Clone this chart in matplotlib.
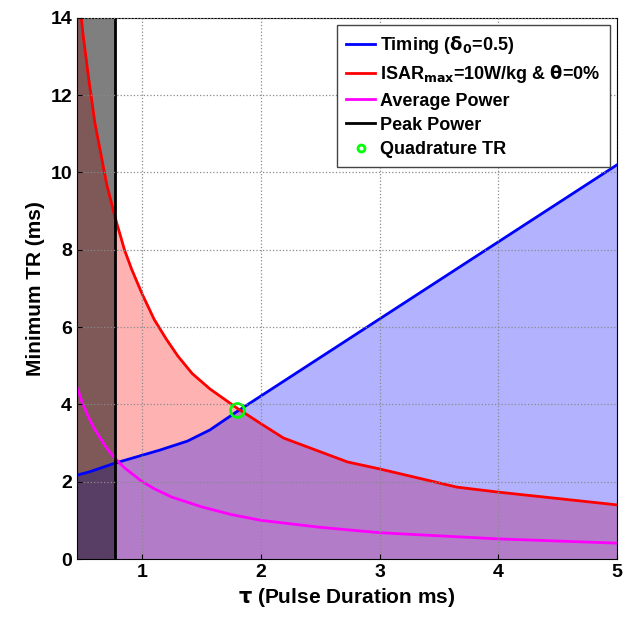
import matplotlib.pyplot as plt

plt.rcParams['font.family'] = ['Liberation Sans', 'DejaVu Sans']
plt.rcParams['font.weight'] = 'bold'
plt.rcParams['mathtext.default'] = 'bf'

# timing limit
tau_timing = [0.45, 0.55, 0.77, 1.15, 1.38, 1.57, 1.8, 5.0]
tr_timing = [2.17, 2.25, 2.48, 2.82, 3.05, 3.34, 3.82, 10.2]

# SAR limit
tau_sar = [0.45, 0.5, 0.55, 0.6, 0.65, 0.7, 0.77, 0.85, 0.91, 1.0, 1.1, 1.2,
           1.3, 1.42, 1.57, 1.8, 2.0, 2.19, 2.73, 3.0, 3.65, 4.0, 5.0]
tr_sar = [15.1, 13.6, 12.4, 11.3, 10.5, 9.7, 8.85, 8.0, 7.5, 6.85, 6.2, 5.7,
          5.25, 4.8, 4.4, 3.9, 3.5, 3.13, 2.51, 2.33, 1.86, 1.73, 1.40]

# average power limit
tau_avg = [0.45, 0.5, 0.55, 0.6, 0.7, 0.77, 0.85, 1.0, 1.1, 1.25, 1.5, 1.75,
           2.0, 2.5, 3.0, 3.5, 4.0, 5.0]
tr_avg = [4.44, 4.0, 3.65, 3.35, 2.87, 2.6, 2.36, 2.0, 1.82, 1.6, 1.35, 1.15,
          1.0, 0.82, 0.68, 0.6, 0.52, 0.41]

peak_tau = 0.77
quad_tau, quad_tr = 1.8, 3.85

fig = plt.figure(figsize=(6.31, 6.17), dpi=100)
ax = fig.add_axes([0.122, 0.094, 0.856, 0.877])

ax.fill_between(tau_sar, tr_sar, 0, color='red', alpha=0.3, lw=0)
ax.fill_between(tau_timing, tr_timing, 0, color='blue', alpha=0.3, lw=0)
ax.axvspan(0.45, peak_tau, color='black', alpha=0.5, lw=0)

ax.plot(tau_timing, tr_timing, color='blue', lw=2, label=r'Timing ($\delta_0$=0.5)')
ax.plot(tau_sar, tr_sar, color='red', lw=2, label=r'ISAR$_{max}$=10W/kg & $\theta$=0%')
ax.plot(tau_avg, tr_avg, color='magenta', lw=2, label='Average Power')
ax.axvline(peak_tau, color='black', lw=2, label='Peak Power')
ax.plot([quad_tau], [quad_tr], 'o', ms=10, mfc='none', mec='#00ff00', mew=2,
        label='Quadrature TR', ls='none')

ax.set_xlim(0.45, 5)
ax.set_ylim(0, 14)
ax.set_xticks([1, 2, 3, 4, 5])
ax.set_yticks(range(0, 15, 2))
ax.tick_params(labelsize=14, direction='in')
ax.grid(True, ls=':', color='#8a8a8a', lw=0.9)
ax.set_axisbelow(False)

ax.set_xlabel(r'$\tau$ (Pulse Duration ms)', fontsize=15, fontweight='bold')
ax.set_ylabel('Minimum TR (ms)', fontsize=15, fontweight='bold')

leg = ax.legend(loc='upper right', fontsize=13, fancybox=False, edgecolor='#444444',
                framealpha=1, handlelength=1.6, handletextpad=0.3, borderaxespad=0.4,
                labelspacing=0.4, markerscale=0.5, borderpad=0.5)
leg.get_frame().set_linewidth(1)

fig.savefig('out.png')
